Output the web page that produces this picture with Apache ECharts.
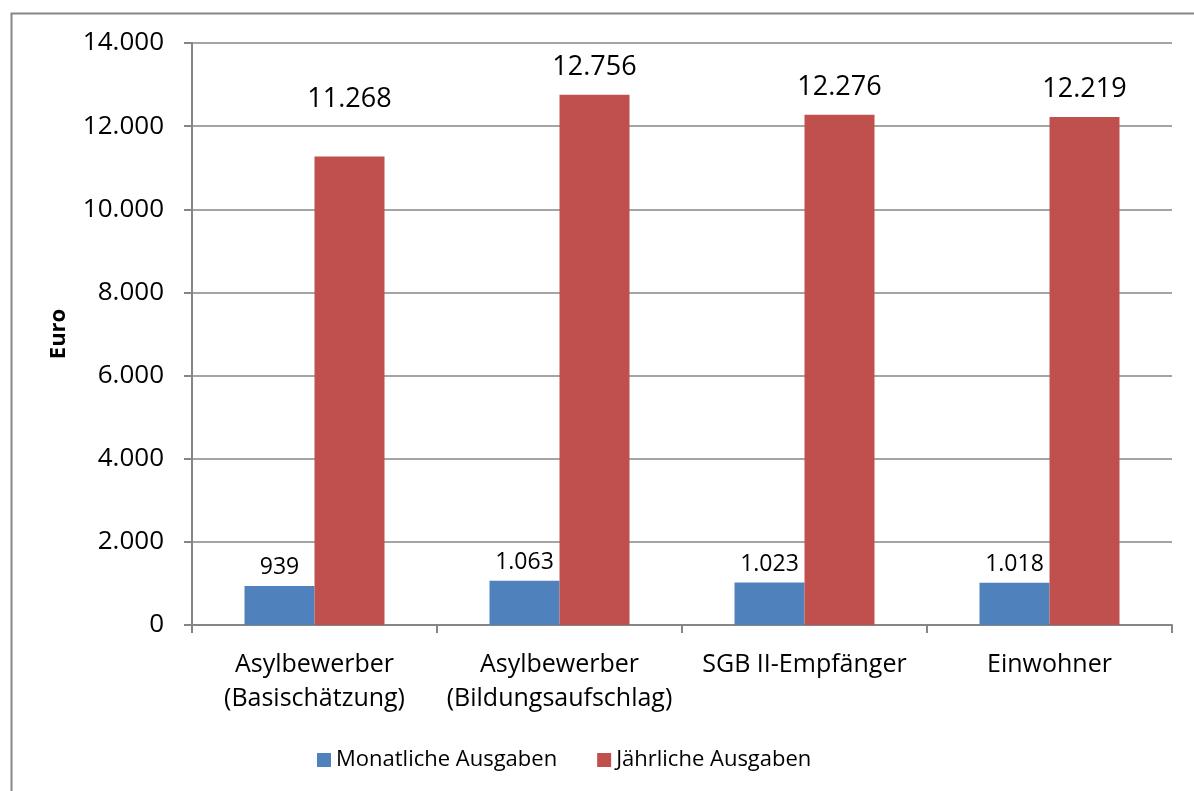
<!DOCTYPE html>
<html>
<head>
<meta charset="utf-8">
<script src="https://cdn.jsdelivr.net/npm/echarts@6/dist/echarts.min.js"></script>
<style>
html,body{margin:0;padding:0;background:#fff;}
#chart{width:1194px;height:791px;}
</style>
</head>
<body>
<div id="chart"></div>
<script>
const categories = ['Asylbewerber\n(Basischätzung)', 'Asylbewerber\n(Bildungsaufschlag)', 'SGB II-Empfänger', 'Einwohner'];
const monatlich = [939, 1063, 1023, 1018];
const jaehrlich = [11268, 12756, 12276, 12219];
const seriesNames = ['Monatliche Ausgaben', 'Jährliche Ausgaben'];
const yTicks = [0, 2000, 4000, 6000, 8000, 10000, 12000, 14000];

const FONT = '"Open Sans", "Liberation Sans", sans-serif';
const fmt = v => String(v).replace(/\B(?=(\d{3})+(?!\d))/g, '.');
const redLabelDist = [44, 14, 14, 14];

const chart = echarts.init(document.getElementById('chart'));
chart.setOption({
  animation: false,
  backgroundColor: '#fff',
  graphic: [{
    type: 'rect', left: 9, top: 11, silent: true,
    shape: { width: 1300, height: 900 },
    style: { fill: 'none', stroke: '#868686', lineWidth: 2 }
  }],
  grid: { left: 192, top: 43, width: 980, height: 582 },
  legend: {
    data: seriesNames, left: 312, top: 744,
    itemWidth: 14, itemHeight: 14, itemGap: 40,
    icon: 'rect',
    textStyle: { fontFamily: FONT, fontSize: 22, color: '#000' }
  },
  xAxis: {
    type: 'category', data: categories,
    axisLine: { lineStyle: { color: '#868686', width: 2 } },
    axisTick: { show: true, length: 8, lineStyle: { color: '#868686', width: 2 } },
    axisLabel: { fontFamily: FONT, fontSize: 25, color: '#000', margin: 23, lineHeight: 34, interval: 0 }
  },
  yAxis: {
    type: 'value', min: 0, max: 14000, interval: 2000,
    name: 'Euro', nameLocation: 'middle', nameGap: 122, nameRotate: 90,
    nameTextStyle: { fontFamily: FONT, fontSize: 22, fontWeight: 'bold', color: '#000' },
    axisLine: { show: true, lineStyle: { color: '#868686', width: 2 } },
    axisTick: { show: true, length: 8, lineStyle: { color: '#868686', width: 2 } },
    splitLine: { lineStyle: { color: '#868686', width: 1.5 } },
    axisLabel: { fontFamily: FONT, fontSize: 26, color: '#000', margin: 28, formatter: v => fmt(v) }
  },
  series: [
    {
      name: seriesNames[0], type: 'bar', data: monatlich,
      barWidth: 70, barGap: '0%',
      itemStyle: { color: '#4F81BD' },
      label: { show: true, position: 'top', distance: 7, fontFamily: FONT, fontSize: 23, color: '#000', formatter: p => fmt(p.value) }
    },
    {
      name: seriesNames[1], type: 'bar',
      data: jaehrlich.map((v, i) => ({ value: v, label: { distance: redLabelDist[i] } })),
      barWidth: 70,
      itemStyle: { color: '#C0504D' },
      label: { show: true, position: 'top', fontFamily: FONT, fontSize: 27, color: '#000', formatter: p => fmt(p.value) }
    }
  ]
});
</script>
</body>
</html>
